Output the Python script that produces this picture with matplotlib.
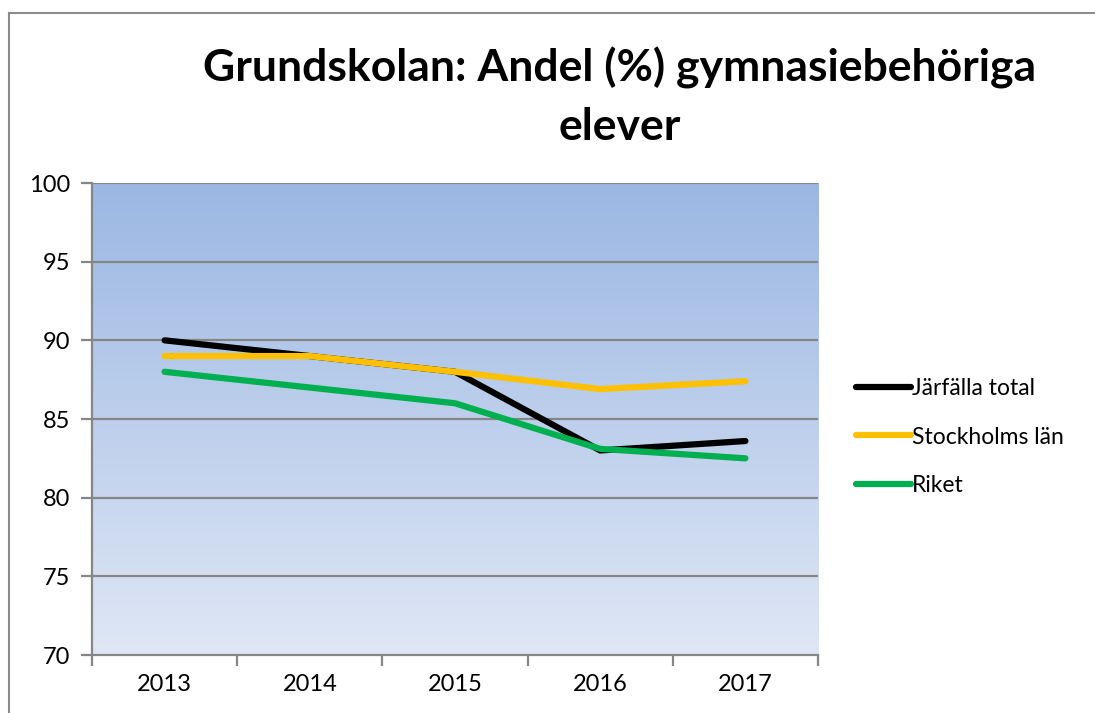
import numpy as np
import matplotlib.pyplot as plt
from matplotlib.lines import Line2D

years = ["2013", "2014", "2015", "2016", "2017"]
jarfalla = [90, 89, 88, 83, 83.6]
stockholm = [89, 89, 88, 86.9, 87.4]
riket = [88, 87, 86, 83.1, 82.5]
labels = ["Järfälla total", "Stockholms län", "Riket"]
line_colors = ["#000000", "#FFC000", "#00B050"]

plt.rcParams['font.family'] = ['Lato', 'DejaVu Sans']

W, H = 1095, 713
fig = plt.figure(figsize=(W / 100, H / 100), dpi=100)

# outer frame: only top and left edges are visible
fig.add_artist(Line2D([9 / W, 1], [1 - 13 / H] * 2, color="#8c8c8c", lw=1.5))
fig.add_artist(Line2D([9 / W] * 2, [0, 1 - 13 / H], color="#8c8c8c", lw=1.5))

ax = fig.add_axes([92 / W, 1 - 655 / H, (818 - 92) / W, (655 - 183) / H])

x = np.arange(len(years))
ax.set_xlim(-0.5, len(years) - 0.5)
ax.set_ylim(70, 100)

# gradient background
top = np.array([155, 183, 227]) / 255
bot = np.array([223, 231, 245]) / 255
t = np.linspace(0, 1, 256)[:, None]
grad = (bot * (1 - t) + top * t)[:, None, :]
ax.imshow(grad, extent=[-0.5, len(years) - 0.5, 70, 100], origin='lower',
          aspect='auto', zorder=0)

for y in range(75, 101, 5):
    ax.axhline(y, color="#868686", lw=1.6, zorder=1)

for vals, lab, c in zip([jarfalla, stockholm, riket], labels, line_colors):
    ax.plot(x, vals, color=c, lw=4.5, label=lab, solid_capstyle='round', zorder=3)

ax.set_yticks(range(70, 101, 5))
ax.set_xticks(np.arange(-0.5, len(years), 1.0))
ax.set_xticklabels([])
ax.set_xticks(x, minor=True)
ax.set_xticklabels(years, minor=True)
ax.tick_params(axis='x', which='minor', length=0, pad=14, labelsize=17)
ax.tick_params(axis='x', which='major', length=8, width=1.6, color="#868686")
ax.tick_params(axis='y', length=8, width=1.6, color="#868686", labelsize=17, pad=8)

for s in ["top", "right"]:
    ax.spines[s].set_visible(False)
for s in ["left", "bottom"]:
    ax.spines[s].set_color("#868686")
    ax.spines[s].set_linewidth(1.6)

fig.text(620 / W, 1 - 68 / H, "Grundskolan: Andel (%) gymnasiebehöriga",
         ha='center', va='center', fontsize=32, fontweight='bold')
fig.text(620 / W, 1 - 127 / H, "elever",
         ha='center', va='center', fontsize=32, fontweight='bold')

leg = fig.legend(loc='center left', bbox_to_anchor=(856 / W, 1 - 437 / H),
                 frameon=False, fontsize=16.5, handlelength=2.4, handletextpad=0.05,
                 labelspacing=1.2, borderpad=0, borderaxespad=0)

fig.savefig("out.png", dpi=100)
